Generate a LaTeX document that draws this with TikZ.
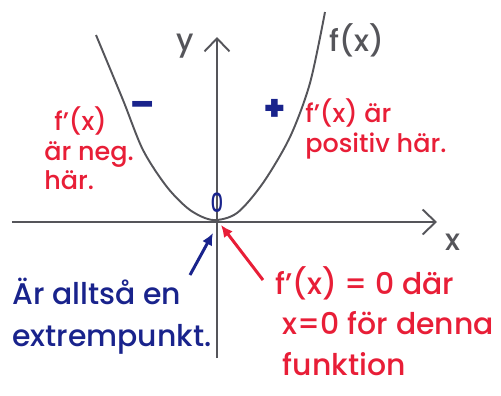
\documentclass[tikz,border=0pt]{standalone}
\usepackage{fontspec}
\setmainfont{Poppins Medium}
\usetikzlibrary{arrows.meta,positioning}
\definecolor{Pen}{RGB}{85,85,90}
\definecolor{Ink}{RGB}{25,35,140}
\definecolor{Marker}{RGB}{232,30,55}

\begin{document}
\begin{tikzpicture}[>=Latex,
  axis/.style={draw=Pen, line width=1.1pt, -{Straight Barb[length=2.6mm, width=5mm, line width=1.1pt]}},
  redtxt/.style={text=Marker, align=left, inner sep=0pt},
  bluetxt/.style={text=Ink, align=left, inner sep=0pt},
  pointer/.style={line width=1.7pt, -{Latex[length=2.4mm, width=2.2mm]}}]
  \useasboundingbox (-4.34,-3.46) rectangle (5.68,4.44);
  \coordinate (O) at (0,0);
  \coordinate (xend) at (4.40,0);
  \coordinate (yend) at (0,3.70);
  \draw[axis] (-4.10,0) -- (xend);
  \draw[axis] (0,-2.72) -- (yend);
  \node[text=Pen, font=\fontsize{17}{20}\selectfont] (xlab) at (4.72,-0.40) {x};
  \node[text=Pen, font=\fontsize{17}{20}\selectfont] (ylab) at (-0.64,3.52) {y};
  \draw[Pen, line width=1.1pt] plot[smooth] coordinates {(-2.42,3.74) (-1.88,2.44) (-1.48,1.44) (-1.00,0.70) (-0.54,0.24) (-0.08,0.04) (0.40,0.18) (0.92,0.78) (1.46,1.70) (1.86,2.78) (2.16,4.20)};
  \node[text=Pen, font=\fontsize{17}{20}\selectfont] (fx) at (2.80,3.64) {f(x)};
  \node[text=Ink, font=\fontsize{20}{20}\selectfont\bfseries] (minus) at (-1.48,2.26) {–};
  \node[text=Ink, font=\fontsize{20}{20}\selectfont\bfseries] (plus) at (1.16,2.24) {+};
  \node[text=Ink, font=\fontsize{15}{16}\selectfont, xscale=0.75, transform shape] (zero) at (0,0.38) {0};
  \node[redtxt, font=\fontsize{14.5}{17}\selectfont, anchor=north west] (negtxt) at (-3.46,2.32) {\hspace*{2mm}f'(x)\\är neg.\\här.};
  \node[redtxt, font=\fontsize{14.5}{17}\selectfont, anchor=north west] (postxt) at (1.76,2.48) {f'(x) är\\positiv här.};
  \node[bluetxt, font=\fontsize{17}{24}\selectfont, anchor=north west] (extxt) at (-4.10,-1.12) {Är alltså en\\extrempunkt.};
  \node[redtxt, font=\fontsize{17}{23}\selectfont, anchor=north west] (zerotxt) at (1.16,-0.88) {f'(x) = 0 där\\\hspace*{1.5mm}x=0 för denna\\\hspace*{1.5mm}funktion};
  \coordinate (btail) at (-0.54,-1.06);
  \coordinate (bhead) at (-0.08,-0.22);
  \coordinate (rtail) at (0.92,-1.16);
  \coordinate (rhead) at (0.08,-0.06);
  \draw[pointer, Ink] (btail) -- (bhead);
  \draw[pointer, Marker] (rtail) -- (rhead);
\end{tikzpicture}
\end{document}
